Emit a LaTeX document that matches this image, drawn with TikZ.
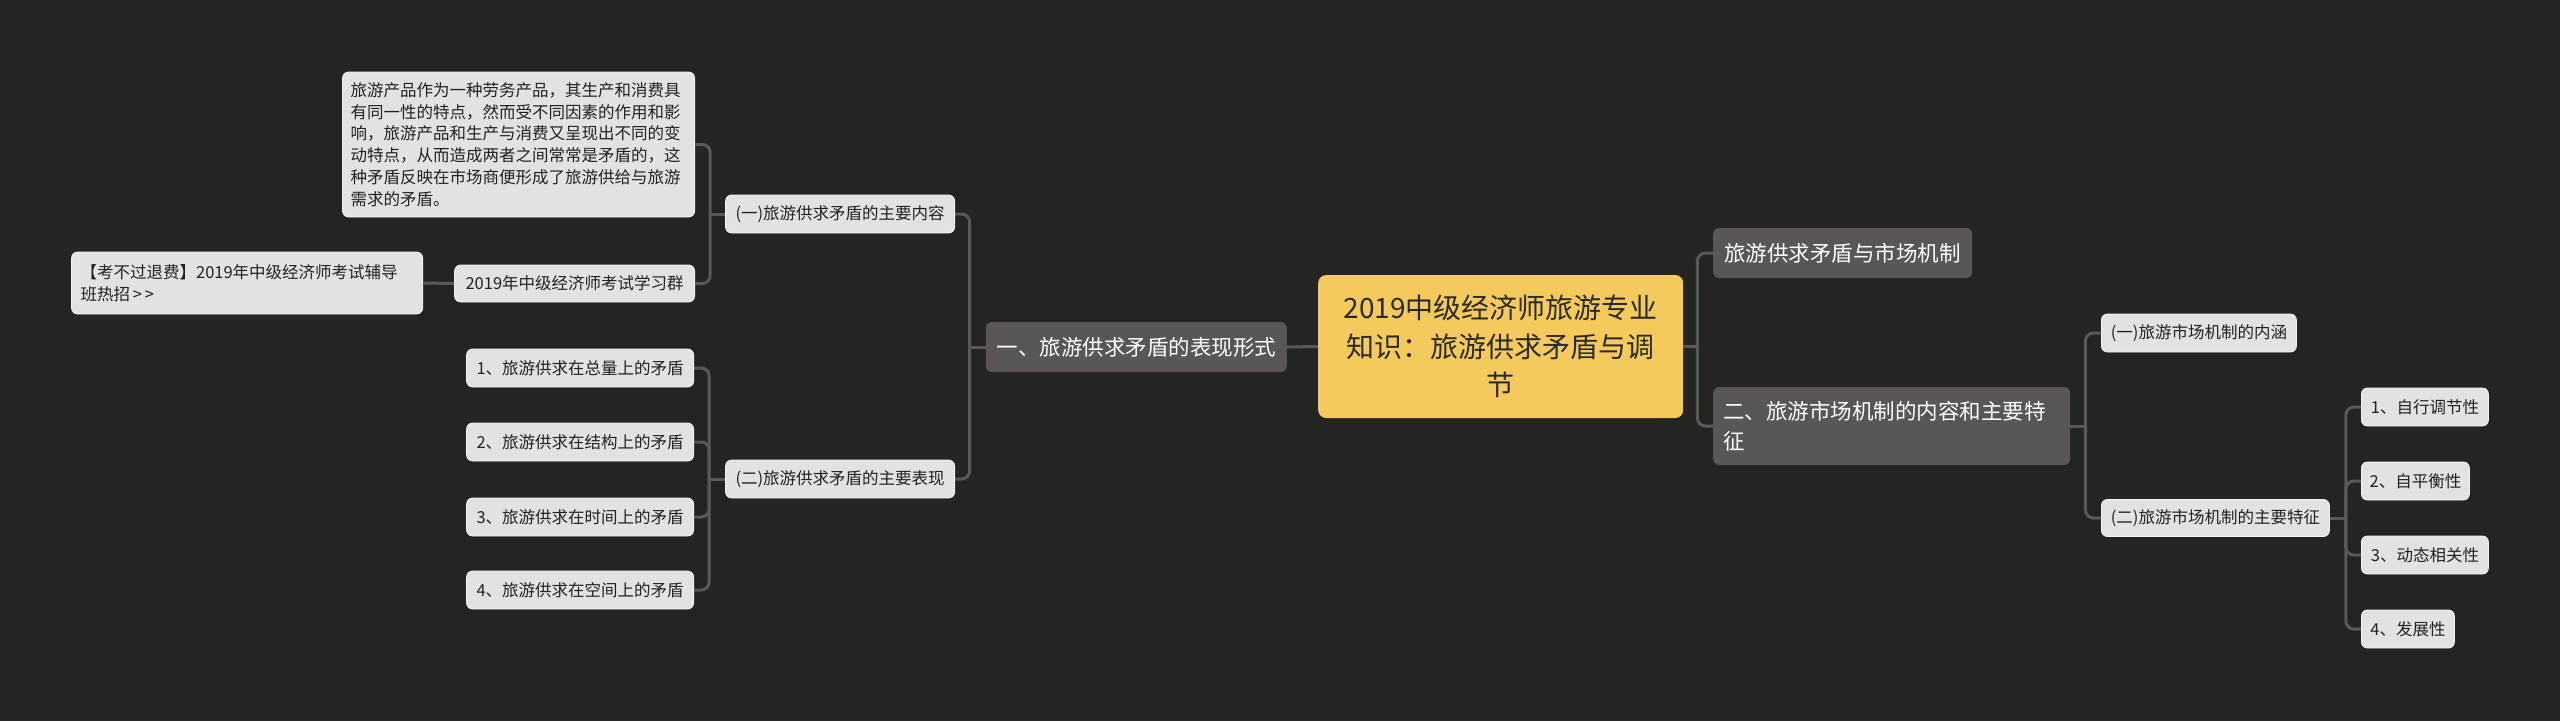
\documentclass[tikz,border=0pt]{standalone}
\usepackage{fontspec}
\setmainfont{Noto Sans CJK SC}
\definecolor{bgc}{HTML}{242422}
\definecolor{connc}{HTML}{5B5856}
\definecolor{darkc}{HTML}{5A5654}
\definecolor{lightc}{HTML}{E2E2E2}
\definecolor{lighttext}{HTML}{222222}
\definecolor{rootc}{HTML}{F5CA5C}
\definecolor{roottext}{HTML}{2A2A2A}
\tikzset{
  box/.style={rounded corners=6pt, inner sep=0pt, align=center},
  light/.style={box, fill=lightc, text=lighttext, font=\fontsize{16.5}{21.7}\selectfont, draw=white!60!lightc, line width=0.8pt},
  dark/.style={box, fill=darkc, text=white, font=\fontsize{21.5}{30}\selectfont},
  rootbox/.style={box, rounded corners=8pt, fill=rootc, text=roottext, font=\fontsize{28}{38.5}\selectfont},
  conn/.style={draw=connc, line width=3pt, rounded corners=8pt},
}
\begin{document}
\begin{tikzpicture}[x=1pt,y=-1pt]
\fill[bgc] (0,0) rectangle (2560,721);
\useasboundingbox (0,0) rectangle (2560,721);

% root
\node[rootbox, minimum width=365pt, minimum height=143pt, text width=345pt, anchor=west] (root) at (1318,346.5)
  {2019中级经济师旅游专业\\知识：旅游供求矛盾与调\\节};

% right level 1
\node[dark, minimum width=259pt, minimum height=50pt, anchor=west] (b1) at (1713,253) {旅游供求矛盾与市场机制};
\node[dark, minimum width=357pt, minimum height=78pt, text width=337pt, align=left, anchor=west] (b2) at (1713,426)
  {二、旅游市场机制的内容和主要特\\征};

% right level 2
\node[light, minimum width=195pt, minimum height=38pt, anchor=west] (d1) at (2101,333) {(一)旅游市场机制的内涵};
\node[light, minimum width=228pt, minimum height=37pt, anchor=west] (d2) at (2101,518) {(二)旅游市场机制的主要特征};

% right level 3
\node[light, minimum width=127pt, minimum height=38pt, anchor=west] (r1) at (2361,407) {1、自行调节性};
\node[light, minimum width=108pt, minimum height=38pt, anchor=west] (r2) at (2361,481) {2、自平衡性};
\node[light, minimum width=127pt, minimum height=38pt, anchor=west] (r3) at (2361,555) {3、动态相关性};
\node[light, minimum width=93pt, minimum height=38pt, anchor=west] (r4) at (2361,629) {4、发展性};

% left level 1
\node[dark, minimum width=301pt, minimum height=50pt, anchor=east] (s1) at (1287,347) {一、旅游供求矛盾的表现形式};

% left level 2
\node[light, minimum width=229pt, minimum height=38pt, anchor=east] (c1) at (955,214) {(一)旅游供求矛盾的主要内容};
\node[light, minimum width=229pt, minimum height=38pt, anchor=east] (c2) at (955,479) {(二)旅游供求矛盾的主要表现};

% left level 3
\node[light, minimum width=352pt, minimum height=145pt, text width=336pt, align=left, anchor=east] (long) at (695,144.5)
  {旅游产品作为一种劳务产品，其生产和消费具\\有同一性的特点，然而受不同因素的作用和影\\响，旅游产品和生产与消费又呈现出不同的变\\动特点，从而造成两者之间常常是矛盾的，这\\种矛盾反映在市场商便形成了旅游供给与旅游\\需求的矛盾。};
\node[light, minimum width=240pt, minimum height=37pt, anchor=east] (qun) at (695,283.5) {2019年中级经济师考试学习群};
\node[light, minimum width=351pt, minimum height=62pt, text width=333pt, align=left, anchor=east] (kao) at (423,283)
  {【考不过退费】2019年中级经济师考试辅导\\班热招\,>\,>};

\node[light, minimum width=227pt, minimum height=38pt, anchor=east] (i1) at (694,368) {1、旅游供求在总量上的矛盾};
\node[light, minimum width=227pt, minimum height=38pt, anchor=east] (i2) at (694,442) {2、旅游供求在结构上的矛盾};
\node[light, minimum width=227pt, minimum height=38pt, anchor=east] (i3) at (694,517) {3、旅游供求在时间上的矛盾};
\node[light, minimum width=227pt, minimum height=38pt, anchor=east] (i4) at (694,590) {4、旅游供求在空间上的矛盾};

% junctions
\coordinate (jR) at ([xshift=14pt]root.east);
\coordinate (jR2) at ([xshift=15pt]b2.east);
\coordinate (jR3) at ([xshift=16pt]d2.east);
\coordinate (jL1) at ([xshift=-16pt]s1.west);
\coordinate (jL2) at ([xshift=-15pt]c1.west);
\coordinate (jL3) at ([xshift=-16pt]c2.west);

% connectors right
\draw[conn] (root.east) -- (jR);
\draw[conn] (jR) |- (b1.west);
\draw[conn] (jR) |- (b2.west);
\draw[conn] (b2.east) -- (jR2);
\draw[conn] (jR2) |- (d1.west);
\draw[conn] (jR2) |- (d2.west);
\draw[conn] (d2.east) -- (jR3);
\draw[conn] (jR3) |- (r1.west);
\draw[conn] (jR3) |- (r2.west);
\draw[conn] (jR3) |- (r3.west);
\draw[conn] (jR3) |- (r4.west);

% connectors left
\draw[conn] (root.west) -- (s1.east);
\draw[conn] (s1.west) -- (jL1);
\draw[conn] (jL1) |- (c1.east);
\draw[conn] (jL1) |- (c2.east);
\draw[conn] (c1.west) -- (jL2);
\draw[conn] (jL2) |- (long.east);
\draw[conn] (jL2) |- (qun.east);
\draw[conn] (qun.west) -- (kao.east);
\draw[conn] (c2.west) -- (jL3);
\draw[conn] (jL3) |- (i1.east);
\draw[conn] (jL3) |- (i2.east);
\draw[conn] (jL3) |- (i3.east);
\draw[conn] (jL3) |- (i4.east);
\end{tikzpicture}
\end{document}
